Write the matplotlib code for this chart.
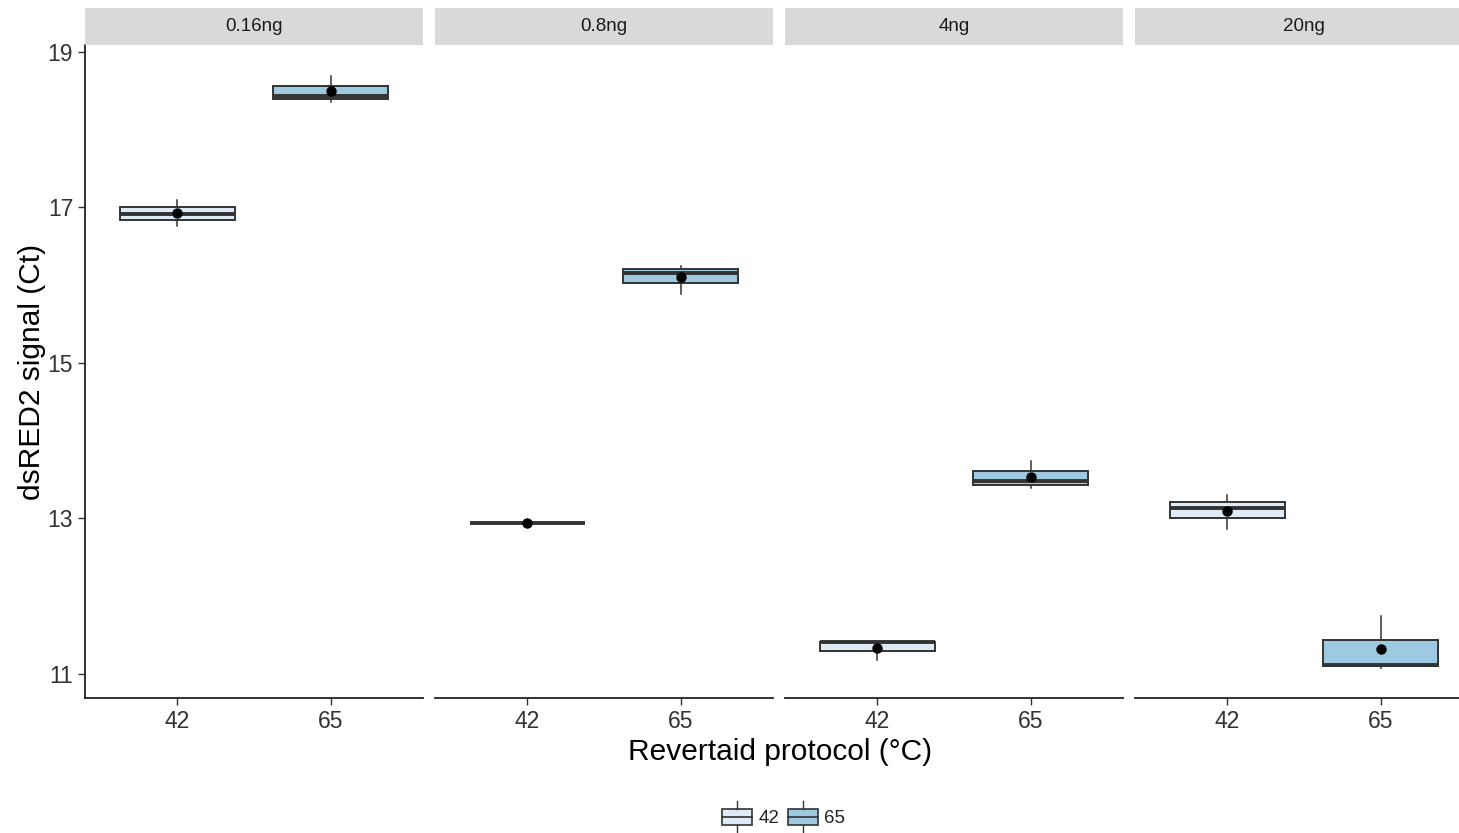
import matplotlib.pyplot as plt
from matplotlib.legend_handler import HandlerBase
from matplotlib.patches import Rectangle
from matplotlib.lines import Line2D

plt.rcParams['font.family'] = ['Liberation Sans', 'DejaVu Sans']

# Ct values, three replicates per RT temperature and template amount
amounts = ['0.16ng', '0.8ng', '4ng', '20ng']
temps = ['42', '65']
ct_42 = [
    [16.76, 16.92, 17.09],
    [12.94, 12.94, 12.94],
    [11.18, 11.41, 11.42],
    [12.87, 13.13, 13.30],
]
ct_65 = [
    [18.36, 18.43, 18.69],
    [15.89, 16.16, 16.25],
    [13.39, 13.48, 13.74],
    [11.08, 11.12, 11.75],
]
fills = ['#deebf7', '#9ecae1']
edge = '#333333'

W, H = 1459, 833
fig = plt.figure(figsize=(W / 100, H / 100), dpi=100)


def px(x0, y0, w, h):
    return [x0 / W, 1 - (y0 + h) / H, w / W, h / H]


panel_w = 338
lefts = [85, 435, 785, 1135]
axes = []
for i, name in enumerate(amounts):
    ax = fig.add_axes(px(lefts[i], 45, panel_w, 653))
    data = [ct_42[i], ct_65[i]]
    bp = ax.boxplot(data, positions=[1, 2], widths=0.75, whis=(0, 100),
                    patch_artist=True, showmeans=True, showcaps=False,
                    medianprops=dict(color=edge, lw=2.8),
                    whiskerprops=dict(color=edge, lw=1.1),
                    boxprops=dict(edgecolor=edge, lw=1.4),
                    meanprops=dict(marker='o', markerfacecolor='black',
                                   markeredgecolor='black', markersize=6.5),
                    flierprops=dict(marker=''))
    for patch, c in zip(bp['boxes'], fills):
        patch.set_facecolor(c)
    ax.set_xlim(0.4, 2.6)
    ax.set_ylim(10.69, 19.09)
    ax.set_yticks([11, 13, 15, 17, 19])
    ax.set_xticks([1, 2])
    ax.set_xticklabels(temps)
    for s in ['top', 'right']:
        ax.spines[s].set_visible(False)
    ax.spines['bottom'].set_color('#222222')
    ax.spines['bottom'].set_linewidth(1.3)
    ax.spines['left'].set_color('#222222')
    ax.spines['left'].set_linewidth(1.3)
    ax.tick_params(colors='#333333', labelsize=16.5, length=5, width=1,
                   labelcolor='#333333')
    if i > 0:
        ax.spines['left'].set_visible(False)
        ax.tick_params(axis='y', left=False, labelleft=False)
    axes.append(ax)

    # facet strip
    sax = fig.add_axes(px(lefts[i], 8, panel_w, 37))
    sax.set_facecolor('#d9d9d9')
    sax.set_xticks([])
    sax.set_yticks([])
    for s in sax.spines.values():
        s.set_visible(False)
    sax.text(0.5, 0.5, name, ha='center', va='center', fontsize=13.5,
             color='#1a1a1a', transform=sax.transAxes)

axes[0].set_ylabel('dsRED2 signal (Ct)', fontsize=21.5, color='black',
                   labelpad=1.5)
fig.text(780 / W, 1 - 752 / H, 'Revertaid protocol (°C)', ha='center',
         va='center', fontsize=21.5)


class BoxKey(HandlerBase):
    def create_artists(self, legend, orig, xd, yd, width, height, fontsize, trans):
        fc = orig.get_facecolor()
        rect = Rectangle((2 - xd, height * 0.05 - yd), width - 4, height * 0.9,
                         facecolor=fc, edgecolor=edge, lw=1.2, transform=trans)
        med = Line2D([2 - xd, width - 2 - xd], [height / 2 - yd] * 2,
                     color=edge, lw=1.2, transform=trans)
        top = Line2D([width / 2 - xd] * 2, [height * 0.95 - yd, height * 1.45 - yd],
                     color=edge, lw=1, transform=trans)
        bot = Line2D([width / 2 - xd] * 2, [height * 0.05 - yd, -height * 0.45 - yd],
                     color=edge, lw=1, transform=trans)
        return [rect, med, top, bot]


handles = [Rectangle((0, 0), 1, 1, facecolor=c) for c in fills]
fig.legend(handles, temps, handler_map={Rectangle: BoxKey()},
           loc='center', bbox_to_anchor=(782 / W, 1 - 818 / H), ncol=2,
           frameon=False, fontsize=13.5, handlelength=1.9, handleheight=1.0,
           handletextpad=0.2, columnspacing=0.3, labelcolor='#222222')

fig.savefig('out.png', dpi=100)
